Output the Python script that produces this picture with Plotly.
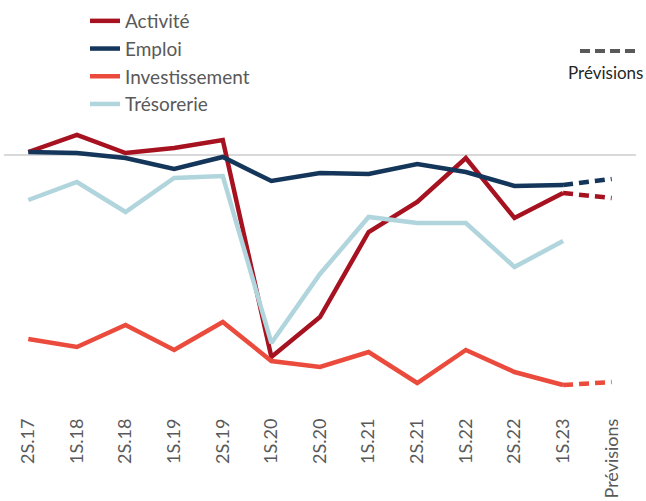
import plotly.graph_objects as go

categories = ["2S.17", "1S.18", "2S.18", "1S.19", "2S.19", "1S.20", "2S.20",
              "1S.21", "2S.21", "1S.22", "2S.22", "1S.23", "Prévisions"]

activite = [0.6, 4.0, 0.4, 1.4, 3.0, -40.4, -32.4, -15.4, -9.4, -0.6, -12.6, -7.6, -8.6]
emploi = [0.6, 0.4, -0.6, -2.8, -0.4, -5.2, -3.6, -3.8, -1.8, -3.4, -6.2, -6.0, -4.8]
investissement = [-36.8, -38.4, -34.0, -39.0, -33.4, -41.2, -42.4, -39.4, -45.6, -39.0, -43.4, -46.0, -45.4]
tresorerie = [-9.0, -5.4, -11.4, -4.6, -4.2, -37.6, -23.8, -12.4, -13.6, -13.6, -22.4, -17.2, None]

series = [
    ("Activité", activite, "#A6121F"),
    ("Emploi", emploi, "#14365A"),
    ("Investissement", investissement, "#EB4B3C"),
    ("Trésorerie", tresorerie, "#B1D5DC"),
]

FONT = "Lato"
TEXT = "#595959"
W, H = 646, 501
ML, MR, MT, MB = 4, 10, 0, 103

fig = go.Figure()
n_hist = 12
for name, vals, color in series:
    fig.add_trace(go.Scatter(
        x=categories[:n_hist], y=vals[:n_hist], mode="lines", name=name,
        line=dict(color=color, width=4.5), hoverinfo="x+y+name"))
for name, vals, color in series:
    if vals[-1] is None:
        continue
    fig.add_trace(go.Scatter(
        x=categories[n_hist - 1:], y=vals[n_hist - 1:], mode="lines", name=name + " (prévision)",
        showlegend=False, line=dict(color=color, width=4.5, dash="10px,6px")))

pw = W - ML - MR
ph = H - MT - MB

def px_x(p):
    return (p - ML) / pw

def px_y(p):
    return (H - MB - p) / ph

fig.add_shape(type="line", xref="paper", yref="paper",
              x0=px_x(580), x1=px_x(636), y0=px_y(51), y1=px_y(51),
              line=dict(color="#595959", width=4, dash="10px,5px"))
fig.add_annotation(text="Prévisions", xref="paper", yref="paper",
                   x=px_x(645), y=px_y(72), xanchor="right", yanchor="middle",
                   showarrow=False, font=dict(family=FONT, size=17, color="#262626"))

fig.update_layout(
    width=W, height=H,
    margin=dict(l=ML, r=MR, t=MT, b=MB, autoexpand=False),
    paper_bgcolor="white", plot_bgcolor="white",
    font=dict(family=FONT, color=TEXT),
    showlegend=True,
    legend=dict(x=px_x(85), y=px_y(2),
                xanchor="left", yanchor="top", bgcolor="rgba(0,0,0,0)",
                font=dict(family=FONT, size=19, color=TEXT),
                tracegroupgap=0, itemwidth=30),
    xaxis=dict(type="category", range=[-0.5, 12.5], showgrid=False, showline=False,
               zeroline=False, tickangle=-90, ticks="", ticklabelstandoff=16,
               tickfont=dict(family=FONT, size=18, color=TEXT)),
    yaxis=dict(range=[-48.6, 31], showgrid=False, showline=False, showticklabels=False,
               zeroline=True, zerolinecolor="#D9D9D9", zerolinewidth=1.5),
)

fig.write_html("out.html", config={"displayModeBar": False},
               post_script="document.body.style.margin='0';document.body.style.overflow='hidden';")
